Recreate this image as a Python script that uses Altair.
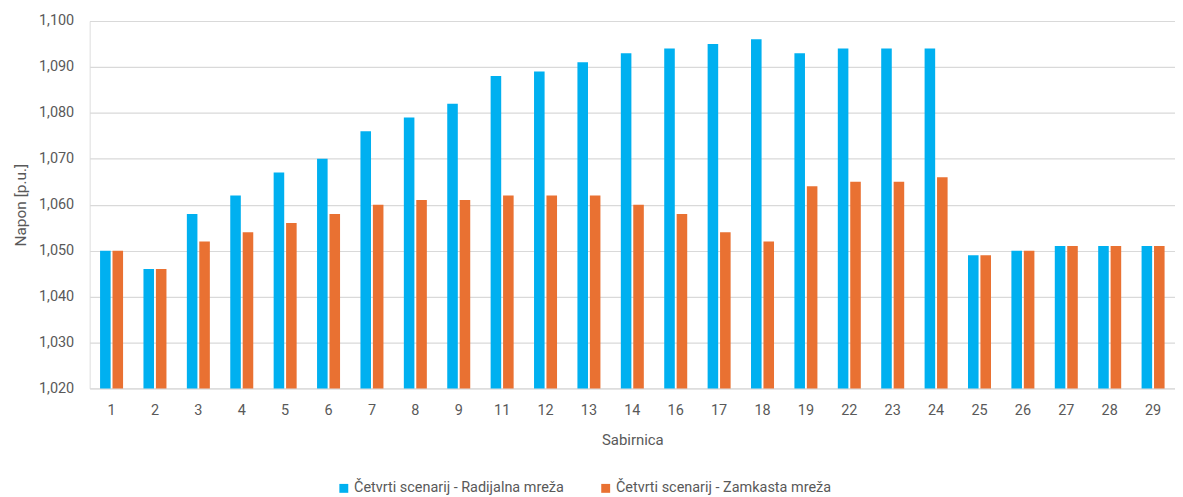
import altair as alt
import pandas as pd

buses = ["1", "2", "3", "4", "5", "6", "7", "8", "9", "11", "12", "13", "14",
         "16", "17", "18", "19", "22", "23", "24", "25", "26", "27", "28", "29"]
radial = [1.050, 1.046, 1.058, 1.062, 1.067, 1.070, 1.076, 1.079, 1.082, 1.088,
          1.089, 1.091, 1.093, 1.094, 1.095, 1.096, 1.093, 1.094, 1.094, 1.094,
          1.049, 1.050, 1.051, 1.051, 1.051]
meshed = [1.050, 1.046, 1.052, 1.054, 1.056, 1.058, 1.060, 1.061, 1.061, 1.062,
          1.062, 1.062, 1.060, 1.058, 1.054, 1.052, 1.064, 1.065, 1.065, 1.066,
          1.049, 1.050, 1.051, 1.051, 1.051]
series = ["Četvrti scenarij - Radijalna mreža", "Četvrti scenarij - Zamkasta mreža"]
colors = ["#00B0F0", "#E97132"]
yticks = [1.02, 1.03, 1.04, 1.05, 1.06, 1.07, 1.08, 1.09, 1.10]
y_min, y_max = 1.02, 1.10

rows = []
for b, r, m in zip(buses, radial, meshed):
    rows.append({"bus": b, "series": series[0], "v": r})
    rows.append({"bus": b, "series": series[1], "v": m})
df = pd.DataFrame(rows)

font = "Roboto"
label_color = "#595959"

chart = alt.Chart(df).mark_bar().encode(
    x=alt.X("bus:N", sort=buses,
            scale=alt.Scale(paddingInner=0.47, paddingOuter=0.24),
            axis=alt.Axis(title="Sabirnica", labelAngle=0, ticks=False, domain=False,
                          labelPadding=15, titlePadding=16, labelFontSize=14.5,
                          titleFontSize=15, labelColor=label_color,
                          titleColor=label_color, titleFontWeight="normal",
                          labelFont=font, titleFont=font)),
    xOffset=alt.XOffset("series:N", sort=series,
                        scale=alt.Scale(paddingInner=0.15)),
    y=alt.Y("v:Q",
            scale=alt.Scale(domain=[y_min, y_max], zero=False, nice=False),
            axis=alt.Axis(title="Napon [p.u.]",
                          values=yticks, labelOverlap=False,
                          labelExpr="replace(format(datum.value, '.3f'), '.', ',')",
                          ticks=False, domain=False, labelPadding=16,
                          titlePadding=10, labelFontSize=14.5, titleFontSize=15.5,
                          labelColor=label_color, titleColor=label_color,
                          titleFontWeight="normal", labelFont=font, titleFont=font,
                          gridColor="#D9D9D9", gridWidth=1.2)),
    y2=alt.datum(y_min),
    color=alt.Color("series:N", sort=series,
                    scale=alt.Scale(domain=series, range=colors),
                    legend=alt.Legend(title=None, orient="none", direction="horizontal",
                                      legendX=248, legendY=462, symbolType="square",
                                      symbolSize=80, symbolStrokeWidth=0,
                                      labelFontSize=14.5, labelColor=label_color,
                                      labelFont=font, columnPadding=34,
                                      labelOffset=3,
                                      labelLimit=400, symbolOpacity=1)),
).properties(
    width=1090, height=369,
    autosize=alt.AutoSizeParams(type="none"),
    padding={"left": 82, "top": 12, "right": 0, "bottom": 108},
).configure_view(stroke=None).configure(background="white")

chart.save("out.html", embed_options={"renderer": "svg", "actions": False})
